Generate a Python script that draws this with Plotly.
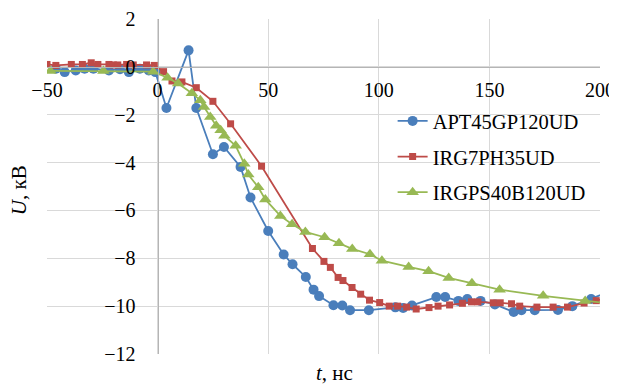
import plotly.graph_objects as go

# ---- data (t in ns, U in kV) ----
apt_t = [-46, -42, -37, -33, -29, -22, -17, -13, -8, -4, -1, 4, 14, 17.5, 25, 30, 37.5, 42,
         50, 57, 61, 67, 70.5, 73, 79.5, 83.5, 87, 95.5, 107.5, 111, 115, 126, 130, 136, 140,
         146, 152.5, 161, 164.5, 170.5, 181, 187.5, 196, 205]
apt_u = [-0.08, -0.22, -0.15, -0.08, -0.08, -0.15, -0.1, -0.22, -0.08, -0.15, -0.22, -1.72, 0.69,
         -1.72, -3.65, -3.35, -4.18, -5.46, -6.86, -7.84, -8.25, -8.78, -9.31, -9.58, -9.96, -9.97,
         -10.17, -10.17, -10.05, -10.08, -9.97, -9.62, -9.62, -9.78, -9.7, -9.78, -9.93, -10.24,
         -10.17, -10.17, -10.16, -10.0, -9.7, -9.36]

irg7_t = [-50, -46, -39, -34, -30, -27, -22, -20, -18, -14, -11, -5, -1.5, 2.7, 6.5, 11, 17.5, 25,
          33, 47, 70, 75.2, 78.1, 81.6, 83.8, 87.9, 91.8, 95.8, 100.4, 104.7, 108.5, 112.6, 116.9,
          122.7, 126.8, 132, 137.8, 141.9, 144.8, 151.8, 154.9, 160, 163.7, 171.5, 178.8, 185.3,
          192.8, 198.3, 205]
irg7_u = [0.1, 0.06, 0.1, 0.1, 0.17, 0.1, 0.1, 0.08, 0.08, 0.1, 0.08, 0.08, 0.06, -0.2, -0.59,
          -0.63, -0.87, -1.44, -2.38, -4.15, -7.59, -8.13, -8.38, -8.8, -8.93, -9.22, -9.5, -9.75,
          -9.85, -10.0, -10.0, -10.04, -10.12, -10.06, -10.0, -9.95, -9.88, -9.82, -9.82, -9.86,
          -9.86, -9.9, -10.0, -10.04, -10.04, -10.04, -9.87, -9.77, -9.6]

irgps_t = [-48.5, -24.5, -2, 4.5, 9.3, 15.5, 19.3, 21, 23.8, 26.5, 28.5, 30.2, 35.3, 39.2, 41,
           45.5, 48.7, 55.5, 60.8, 66.8, 75.5, 82, 88, 96, 101.4, 113.5, 122.5, 131.6, 142.1,
           154.6, 174.3, 193.3, 205]
irgps_u = [-0.17, -0.17, -0.2, -0.45, -0.7, -1.1, -1.4, -1.68, -2.1, -2.46, -2.65, -2.88, -3.3,
           -4.05, -4.5, -5.03, -5.54, -6.23, -6.58, -6.9, -7.12, -7.37, -7.61, -7.83, -8.1, -8.36,
           -8.54, -8.82, -9.04, -9.31, -9.57, -9.79, -9.9]

series_names = ["APT45GP120UD", "IRG7PH35UD", "IRGPS40B120UD"]

FONT = "'Liberation Serif', 'Times New Roman', Times, serif"
GRID = "#d9d9d9"

fig = go.Figure()
fig.add_trace(go.Scatter(x=apt_t, y=apt_u, name=series_names[0], mode="lines+markers",
                         legendgroup="a",
                         line=dict(color="#4a7ebb", width=1.8),
                         marker=dict(symbol="circle", size=10, color="#4a7ebb")))
fig.add_trace(go.Scatter(x=irg7_t, y=irg7_u, name=series_names[1], mode="lines+markers",
                         legendgroup="b",
                         line=dict(color="#be4b48", width=1.8),
                         marker=dict(symbol="square", size=7, color="#be4b48")))
fig.add_trace(go.Scatter(x=irgps_t, y=irgps_u, name=series_names[2], mode="lines+markers",
                         legendgroup="c",
                         line=dict(color="#98b954", width=1.8),
                         marker=dict(symbol="triangle-up", size=11, color="#98b954")))

fig.update_layout(
    width=609, height=377,
    margin=dict(l=39, r=17, t=11, b=31, autoexpand=False),
    paper_bgcolor="white", plot_bgcolor="white",
    font=dict(family=FONT, size=20, color="black"),
    showlegend=True,
    legend=dict(x=0.625, y=0.755, xanchor="left", yanchor="top",
                bgcolor="rgba(0,0,0,0)", borderwidth=0, tracegroupgap=6,
                font=dict(family=FONT, size=20.5, color="black")),
    xaxis=dict(range=[-50, 200], dtick=50, tick0=0, showgrid=True, gridcolor=GRID, gridwidth=1,
               zeroline=False, showline=True, linecolor="#b5b5b5", linewidth=1,
               anchor="free", position=12 / 14, ticks="", ticklabelstandoff=5,
               automargin=False,
               tickfont=dict(family=FONT, size=20, color="black")),
    yaxis=dict(range=[-12, 2], dtick=2, tick0=0, showgrid=True, gridcolor=GRID, gridwidth=1,
               zeroline=False, showline=True, linecolor="#b5b5b5", linewidth=1,
               anchor="free", position=0.2, ticks="", ticklabelstandoff=18,
               automargin=False,
               tickfont=dict(family=FONT, size=20, color="black")),
    annotations=[
        dict(text="<i>U</i>, кВ", xref="paper", yref="paper", x=-0.05, y=0.49,
             xanchor="center", yanchor="middle", textangle=-90, showarrow=False,
             font=dict(family=FONT, size=21, color="black")),
        dict(text="<i>t</i>, нс", xref="paper", yref="paper", x=0.519, y=-0.057,
             xanchor="center", yanchor="middle", showarrow=False,
             font=dict(family=FONT, size=21, color="black")),
    ],
)

fig.write_html("out.html")
